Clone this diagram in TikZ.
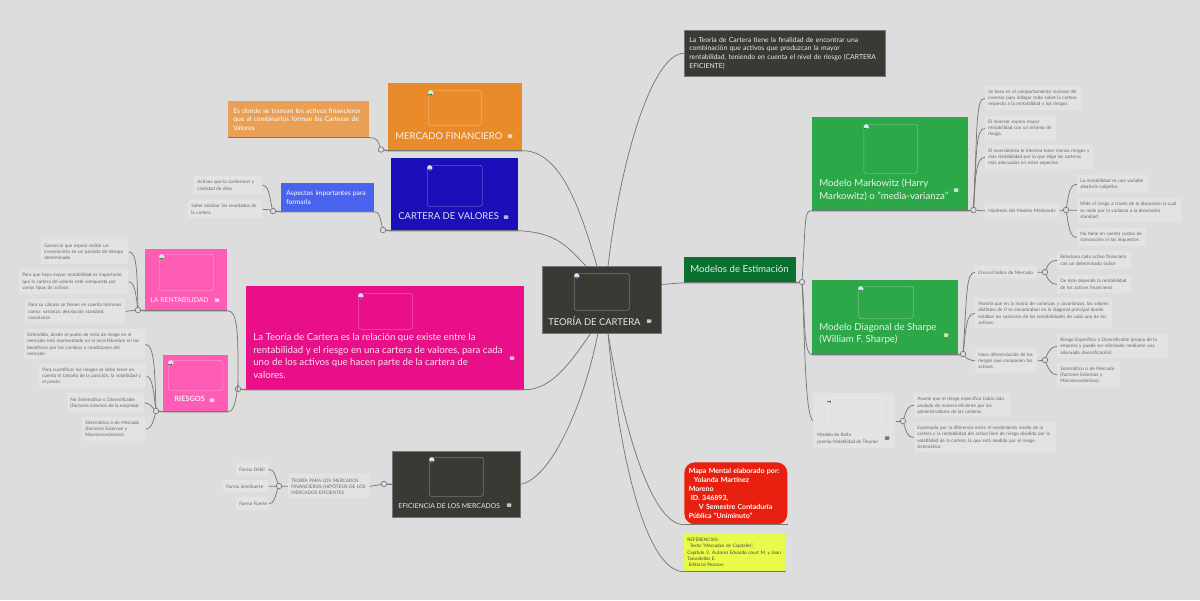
\documentclass[tikz,border=0pt]{standalone}
\usepackage{fontspec}
\setmainfont{Lato}
\usetikzlibrary{positioning}

\definecolor{bgcol}{HTML}{DDDDDD}
\definecolor{linecol}{HTML}{777777}
\definecolor{notecol}{HTML}{E3E3E3}
\definecolor{notetext}{HTML}{666666}
\definecolor{darkcol}{HTML}{3A3A35}
\definecolor{orangecol}{HTML}{E98B2A}
\definecolor{orangenote}{HTML}{E9A054}
\definecolor{bluecol}{HTML}{1A0FB8}
\definecolor{bluenote}{HTML}{4A63EE}
\definecolor{magentacol}{HTML}{E80F88}
\definecolor{pinkcol}{HTML}{FF5CB5}
\definecolor{greencol}{HTML}{2CA848}
\definecolor{modeloscol}{HTML}{0A7030}
\definecolor{redcol}{HTML}{E8200F}
\definecolor{yellowcol}{HTML}{E8FA4A}

\begin{document}
\begin{tikzpicture}[x=0.02cm, y=-0.02cm]

	% Define styles
	\tikzset{
		spot/.style n args={4}{
			at={(#1,#2)}, anchor=north west, inner ysep=0pt,
			minimum width={(#3-#1)*0.02cm}, minimum height={(#4-#2)*0.02cm},
			text width={(#3-#1-2*3)*0.02cm}, inner xsep=0.06cm, align=left
		},
		note/.style={fill=notecol, text=notetext, font=\fontsize{2.65}{3.55}\selectfont},
		colnote/.style={text=white, font=\fontsize{3.8}{5}\selectfont},
		mainbox/.style={},
		maintext/.style={anchor=west, inner sep=0pt, align=left, text=white, text opacity=.88,
			font=\fontsize{5.5}{7}\selectfont},
		imgslot/.style={draw=white, draw opacity=.3, rounded corners=1pt, inner sep=0pt,
			path picture={
				\fill[white!88!blue] (path picture bounding box.north west) rectangle +(5,5);
				\fill[green!55!black] ([shift={(0,3.5)}]path picture bounding box.north west) rectangle +(3.5,1.5);
			}
		},
		noteicon/.style={fill=white, fill opacity=.7, rounded corners=.3pt, inner sep=0pt,
			minimum width=0.09cm, minimum height=0.07cm},
		joint/.style={circle, draw=linecol, fill=bgcol, inner sep=0pt, minimum size=0.11cm, line width=.4pt},
		link/.style={draw=linecol, line width=.42pt},
		edge/.style={draw=linecol, line width=.7pt}
	}

	% Background
	\fill[bgcol] (0,0) rectangle (1200,600);
	\useasboundingbox (0,0) rectangle (1200,600);

	% Root and first level
	\node (root) [mainbox, spot={542}{266}{661}{333}, fill=darkcol, draw=linecol, line width=.3pt] {};
	\node (rootimg) [imgslot, spot={574}{273}{629}{310}] {};
	\node (roottxt) [maintext, font=\fontsize{5.35}{7}\selectfont] at (548,321) {TEORÍA DE CARTERA};
	\node (rooticon) [noteicon] at (649,321) {};

	\node (topnote) [spot={684}{30}{885}{76}, fill=darkcol, draw=linecol, line width=.3pt, text=white, text opacity=.9,
		font=\fontsize{3.9}{5}\selectfont, inner xsep=0.1cm, text width=3.82cm]
		{La Teoría de Cartera tiene la finalidad de encontrar una\\combinación que activos que produzcan la mayor\\rentabilidad, teniendo en cuenta el nivel de riesgo (CARTERA\\EFICIENTE)};

	\node (modelos) [mainbox, spot={684}{257}{796}{282}, fill=modeloscol] {};
	\node (modelostxt) [maintext] at (690,268.5) {Modelos de Estimación};

	\node (mapa) [spot={684}{462}{787}{524}, fill=redcol, rounded corners=6pt, text=white,
		font=\fontsize{4}{5.2}\bfseries\selectfont, inner xsep=0.09cm, text width=1.88cm]
		{Mapa Mental elaborado por:\\\hspace*{0.1cm}Yolanda Martínez\\Moreno\\\hspace*{0.04cm}ID. 346893,\\\hspace*{0.2cm}V Semestre Contaduría\\Pública "Uniminuto"};

	\node (refs) [spot={684}{533}{785}{571}, fill=yellowcol, text=notetext!70!black,
		font=\fontsize{2.65}{3.45}\selectfont]
		{REFERENCIAS:\\\hspace*{0.05cm}Texto "Mercados de Capitales",\\Capítulo 3. Autores Eduardo court M. y Joan\\Tarondellas E.\\\hspace*{0.03cm}Editorial Pearson};

	% Left side boxes
	\node (mercado) [mainbox, spot={388}{83}{522}{150}, fill=orangecol] {};
	\node (mercadoimg) [imgslot, spot={428}{90}{481}{125}] {};
	\node (mercadotxt) [maintext, font=\fontsize{5.4}{7}\selectfont] at (395,136) {MERCADO FINANCIERO};
	\node (mercadoicon) [noteicon] at (510,136) {};
	\node (mercadonote) [colnote, spot={228}{101}{369}{137}, fill=orangenote, inner xsep=0.1cm, text width=2.62cm]
		{Es donde se transan los activos financieros\\que al combinarlos forman las Carteras de\\Valores};

	\node (cartera) [mainbox, spot={391}{158}{518}{230}, fill=bluecol] {};
	\node (carteraimg) [imgslot, spot={427}{165}{482}{206}] {};
	\node (carteratxt) [maintext, font=\fontsize{5.4}{7}\selectfont] at (398,216) {CARTERA DE VALORES};
	\node (carteraicon) [noteicon] at (506,217) {};
	\node (aspectos) [colnote, spot={281}{183}{374}{211}, fill=bluenote, inner xsep=0.1cm, text width=1.66cm]
		{Aspectos importantes para\\formarla};
	\node (activos) [note, spot={194}{176}{262}{194}] {Activos que la conforman y\\cantidad de ellos};
	\node (saber) [note, spot={188}{200}{262}{218}] {Saber analizar los resultados de\\la cartera};

	\node (pink) [mainbox, spot={246}{286}{524}{389}, fill=magentacol] {};
	\node (pinkimg) [imgslot, spot={358}{293}{412}{329}] {};
	\node (pinktxt) [maintext, anchor=north west, font=\fontsize{5.5}{7.05}\selectfont] at (253,333.5)
		{La Teoría de Cartera es la relación que existe entre la\\rentabilidad y el riesgo en una cartera de valores, para cada\\uno de los activos que hacen parte de la cartera de\\valores.};
	\node (pinkicon) [noteicon] at (512,358) {};

	\node (renta) [mainbox, spot={145}{249}{227}{310}, fill=pinkcol] {};
	\node (rentaimg) [imgslot, spot={159}{254}{213}{290}] {};
	\node (rentatxt) [maintext, font=\fontsize{3.9}{5}\selectfont] at (150,300) {LA RENTABILIDAD};
	\node (rentaicon) [noteicon] at (217,300) {};

	\node (riesgos) [mainbox, spot={163}{355}{228}{411}, fill=pinkcol] {};
	\node (riesgosimg) [imgslot, spot={168}{360}{222.5}{390}] {};
	\node (riesgostxt) [maintext, font=\fontsize{4.2}{5}\bfseries\selectfont] at (174,399) {RIESGOS};
	\node (riesgosicon) [noteicon] at (212,400) {};

	\node (eficiencia) [mainbox, spot={392}{451}{520}{517}, fill=darkcol, draw=linecol, line width=.3pt] {};
	\node (eficienciaimg) [imgslot, spot={429}{457}{483}{496}] {};
	\node (eficienciatxt) [maintext, font=\fontsize{3.9}{5}\selectfont] at (398,506) {EFICIENCIA DE LOS MERCADOS};
	\node (eficienciaicon) [noteicon] at (509,505) {};

	% Notes of the left side
	\node (ganancia) [note, spot={41}{239}{128}{264}] {Ganancia que espera recibir un\\inversionista en un período de tiempo\\determinado};
	\node (paraque) [note, spot={19}{269}{128}{294}] {Para que haya mayor rentabilidad es importante\\que la cartera de valores esté compuesta por\\varios tipos de activos};
	\node (calculo) [note, spot={25}{299}{125}{323}] {Para su cálculo se tienen en cuenta términos\\como: varianza, desviación standard,\\covarianza};
	\node (entendido) [note, spot={24}{329}{145}{359}] {Entendido, desde el punto de vista de riesgo en el\\mercado está representado en la incertidumbre en los\\beneficios por los cambios y condiciones del\\mercado};
	\node (cuantificar) [note, spot={39}{364}{146}{388}] {Para cuantificar los riesgos se debe tener en\\cuenta el tamaño de la posición, la volatilidad y\\el precio};
	\node (nosist) [note, spot={67}{393}{144}{412}] {No Sistemático o Diversificable\\(Factores internos de la empresa)};
	\node (sist) [note, spot={82}{417}{145}{441}] {Sistemático o de Mercado\\(Factores Externos y\\Macroeconómicos)};

	\node (teoria) [note, spot={288}{474}{369}{498}] {TEORÍA PARA LOS MERCADOS\\FINANCIEROS (HIPÓTESIS DE LOS\\MERCADOS EFICIENTES};
	\node (debil) [note, spot={236}{463}{268}{475}] {\mbox{Forma Débil}};
	\node (semi) [note, spot={223}{480}{268}{492}] {\mbox{Forma Semifuerte}};
	\node (fuerte) [note, spot={236}{497}{268}{510}] {\mbox{Forma Fuerte}};

	% Right side boxes
	\node (markowitz) [mainbox, spot={812}{117}{968}{210}, fill=greencol] {};
	\node (markowitzimg) [imgslot, spot={863.5}{124}{917}{173}] {};
	\node (markowitztxt) [maintext, anchor=north west] at (819,179) {Modelo Markowitz (Harry\\Markowitz) o "media-varianza"};
	\node (markowitzicon) [noteicon] at (956,190) {};

	\node (diagonal) [mainbox, spot={812}{280}{958}{354}, fill=greencol] {};
	\node (diagonalimg) [imgslot, spot={858}{286}{913}{318}] {};
	\node (diagonaltxt) [maintext, anchor=north west] at (819,323) {Modelo Diagonal de Sharpe\\(William F. Sharpe)};
	\node (diagonalicon) [noteicon] at (946,335) {};

	\node (ratio) [mainbox, spot={813}{393}{895}{448}, fill=notecol] {};
	\node (ratioimg) [imgslot, spot={827}{397}{881}{428}] {};
	\node (ratiotxt) [maintext, anchor=north west, text=notetext, text opacity=1, font=\fontsize{2.65}{3.6}\selectfont] at (817,433)
		{Modelo de Ratio\\premio/Volatilidad de Treynor};
	\node (ratioicon) [noteicon, fill=black!70] at (887,438) {};

	% Notes of the right side
	\node (sebasa) [note, spot={985}{86}{1081}{110}] {Se basa en el comportamiento racional del\\inversor para indagar todo sobre la cartera\\respecto a la rentabilidad y los riesgos};
	\node (inversor) [note, spot={985}{116}{1056}{140}] {El inversor espera mayor\\rentabilidad con un mínimo de\\riesgo.};
	\node (inversionista) [note, spot={985}{145}{1093}{169}] {El inversionista le interesa tener menos riesgos y\\más rentabilidad por lo que elige las carteras\\más adecuadas en estos aspectos.};
	\node (hipotesis) [note, spot={985}{204}{1059}{217}] {Hipótesis del Modelo Markowitz};
	\node (aleatoria) [note, spot={1077}{175}{1148}{193}] {La rentabilidad es una variable\\aleatoria subjetiva};
	\node (mide) [note, spot={1077}{198}{1181}{222}] {Mide el riesgo a través de la dispersión la cual\\se mide por la varianza o la desviación\\standard};
	\node (costos) [note, spot={1077}{228}{1146}{246}] {No tiene en cuenta costos de\\transacción ni los impuestos};

	\node (crea) [note, spot={975}{266}{1037}{278}] {\mbox{Crea el Índice de Mercado}};
	\node (relaciona) [note, spot={1057}{251}{1131}{269}] {Relaciona cada activo financiero\\con un determinado índice};
	\node (deeste) [note, spot={1057}{275}{1131}{293}] {De éste depende la rentabilidad\\de los activos financieros};
	\node (mostro) [note, spot={975}{298}{1112}{328}] {Mostró que en la matriz de varianzas y covarianzas, los valores\\distintos de 0 se encontraban en la diagonal principal donde\\estaban las varianzas de las rentabilidades de cada uno de los\\activos.};
	\node (hace) [note, spot={975}{348}{1037}{373}] {Hace diferenciación de los\\riesgos que componen los\\activos.};
	\node (especifico) [note, spot={1057}{334}{1168}{358}] {Riesgo Específico o Diversificable (propio de la\\empresa y puede ser eliminado mediante una\\adecuada diversificación)};
	\node (sistdos) [note, spot={1057}{362}{1120}{387}] {Sistemático o de Mercado\\(Factores Externos y\\Macroeconómicos)};

	\node (asume) [note, spot={914}{393}{1011}{417}] {Asume que el riesgo específico había sido\\anulado de manera eficiente por los\\administradores de las carteras};
	\node (expresado) [note, spot={914}{422}{1056}{452}] {Expresado por la diferencia entre el rendimiento medio de la\\cartera y la rentabilidad del activo libre de riesgo dividido por la\\volatilidad de la cartera, la que está medida por el riesgo\\sistemático};

	% Joints
	\node (jmercado) [joint] at (381,149.5) {};
	\node (jcartera) [joint] at (383,230) {};
	\node (jaspectos) [joint] at (273,211) {};
	\node (jpink) [joint] at (238,389) {};
	\node (jrenta) [joint] at (138,310) {};
	\node (jriesgos) [joint] at (156,411) {};
	\node (jeficiencia) [joint] at (384,484) {};
	\node (jteoria) [joint] at (279,486) {};
	\node (jmodelos) [joint] at (802,282) {};
	\node (jmarkowitz) [joint] at (973.5,210) {};
	\node (jhipotesis) [joint] at (1066,210) {};
	\node (jdiagonal) [joint] at (963,354) {};
	\node (jcrea) [joint] at (1045,272) {};
	\node (jhace) [joint] at (1045,360) {};
	\node (jratio) [joint] at (903,421) {};

	% Points on the root border
	\coordinate (rootmercado) at (597,266);
	\coordinate (rootcartera) at (586,266);
	\coordinate (roottop) at (608,266);
	\coordinate (rootmodelos) at (661,284.5);
	\coordinate (rootpink) at (591,333);
	\coordinate (rootefic) at (598,333);
	\coordinate (rootmapa) at (608,333);

	% Links from the root
	\draw[link] (mercado.south east) .. controls +(40,0) and +(-15,-50) .. (rootmercado);
	\draw[link] (cartera.south east) .. controls +(40,2) and +(-18,-18) .. (rootcartera);
	\draw[link] (topnote.west) .. controls +(-30,0) and +(14,-116) .. (roottop);
	\draw[link] (rootmodelos) -- (modelos.south west);
	\draw[link] (pink.south east) .. controls +(28,0) and +(-19,27) .. (rootpink);
	\draw[link] (eficiencia.east) .. controls +(32,-6) and +(-13,67) .. (rootefic);
	\draw[link] (mapa.south west) .. controls +(-34,0) and +(14,87) .. (rootmapa);
	\draw[link] (refs.south west) .. controls +(-39,0) and +(10,117) .. (rootmapa);

	% Bottom edges
	\draw[edge] (mercado.south east) -- (mercado.south west) -- (jmercado);
	\draw[edge] (cartera.south east) -- (cartera.south west) -- (jcartera);
	\draw[edge] (mercadonote.south west) -- (mercadonote.south east);
	\draw[edge] (aspectos.south east) -- (aspectos.south west) -- (jaspectos);
	\draw[edge] (pink.south east) -- (pink.south west) -- (jpink);
	\draw[edge] (renta.south east) -- (renta.south west) -- (jrenta);
	\draw[edge] (riesgos.south east) -- (riesgos.south west) -- (jriesgos);
	\draw[edge] (modelos.south west) -- (modelos.south east) -- (jmodelos);
	\draw[edge] (markowitz.south west) -- (markowitz.south east) -- (jmarkowitz);
	\draw[edge] (diagonal.south west) -- (diagonal.south east) -- (jdiagonal);
	\draw[edge] (mapa.south west) -- (mapa.south east);
	\draw[edge] (refs.south west) -- (refs.south east);
	\draw[edge] (eficiencia.west) -- (jeficiencia);

	% Links on the left
	\draw[link] (mercadonote.south east) .. controls +(8,0) and +(-3,-8) .. (jmercado);
	\draw[link] (aspectos.south east) .. controls +(5,0) and +(-3,-12) .. (jcartera);
	\draw[link] (activos.east) .. controls +(7,0) and +(-3,-10) .. (jaspectos);
	\draw[link] (saber.east) .. controls +(4,0) and +(-3,-1) .. (jaspectos);
	\draw[link] (renta.south east) .. controls +(11,0) and +(0,-50) .. (jpink);
	\draw[link] (riesgos.south east) .. controls +(8,0) and +(0,-10) .. (jpink);

	\draw[link] (ganancia.east) .. controls +(8,0) and +(-1,-40) .. (jrenta);
	\draw[link] (paraque.east) .. controls +(6,0) and +(-2,-15) .. (jrenta);
	\draw[link] (calculo.east) -- (jrenta);
	\draw[link] (entendido.east) .. controls +(9,0) and +(-1,-35) .. (jriesgos);
	\draw[link] (cuantificar.east) .. controls +(6,0) and +(-2,-15) .. (jriesgos);
	\draw[link] (nosist.east) .. controls +(5,0) and +(-3,-3) .. (jriesgos);
	\draw[link] (sist.east) .. controls +(6,0) and +(-2,8) .. (jriesgos);

	\draw[link] (teoria.east) -- (jeficiencia);
	\draw[link] (teoria.west) -- (jteoria);
	\draw[link] (debil.east) .. controls +(6,0) and +(-4,-10) .. (jteoria);
	\draw[link] (semi.east) -- (jteoria);
	\draw[link] (fuerte.east) .. controls +(6,0) and +(-4,10) .. (jteoria);

	% Links on the right
	\draw[link] (jmodelos) .. controls +(4,-65) and +(-8,0) .. (markowitz.south west);
	\draw[link] (jmodelos) .. controls +(3,30) and +(-9,0) .. (diagonal.south west);
	\draw[link] (jmodelos) .. controls +(3,60) and +(-8,-6) .. (ratio.west |- jratio);

	\draw[link] (jmarkowitz) .. controls +(4,-90) and +(-9,0) .. (sebasa.west);
	\draw[link] (jmarkowitz) .. controls +(3,-60) and +(-9,0) .. (inversor.west);
	\draw[link] (jmarkowitz) .. controls +(2,-35) and +(-9,0) .. (inversionista.west);
	\draw[link] (jmarkowitz) -- (hipotesis.west);
	\draw[link] (hipotesis.east) -- (jhipotesis);
	\draw[link] (jhipotesis) .. controls +(3,-18) and +(-7,0) .. (aleatoria.west);
	\draw[link] (jhipotesis) -- (mide.west);
	\draw[link] (jhipotesis) .. controls +(3,18) and +(-7,0) .. (costos.west);

	\draw[link] (jdiagonal) .. controls +(4,-60) and +(-9,0) .. (crea.west);
	\draw[link] (jdiagonal) .. controls +(3,-25) and +(-9,0) .. (mostro.west);
	\draw[link] (jdiagonal) .. controls +(3,4) and +(-4,0) .. (hace.west);
	\draw[link] (crea.east) -- (jcrea);
	\draw[link] (jcrea) .. controls +(3,-8) and +(-6,0) .. (relaciona.west);
	\draw[link] (jcrea) .. controls +(3,8) and +(-6,0) .. (deeste.west);
	\draw[link] (hace.east) -- (jhace);
	\draw[link] (jhace) .. controls +(3,-8) and +(-6,0) .. (especifico.west);
	\draw[link] (jhace) .. controls +(3,8) and +(-6,0) .. (sistdos.west);

	\draw[link] (ratio.east |- jratio) -- (jratio);
	\draw[link] (jratio) .. controls +(3,-9) and +(-7,0) .. (asume.west);
	\draw[link] (jratio) .. controls +(3,10) and +(-7,0) .. (expresado.west);

\end{tikzpicture}
\end{document}
